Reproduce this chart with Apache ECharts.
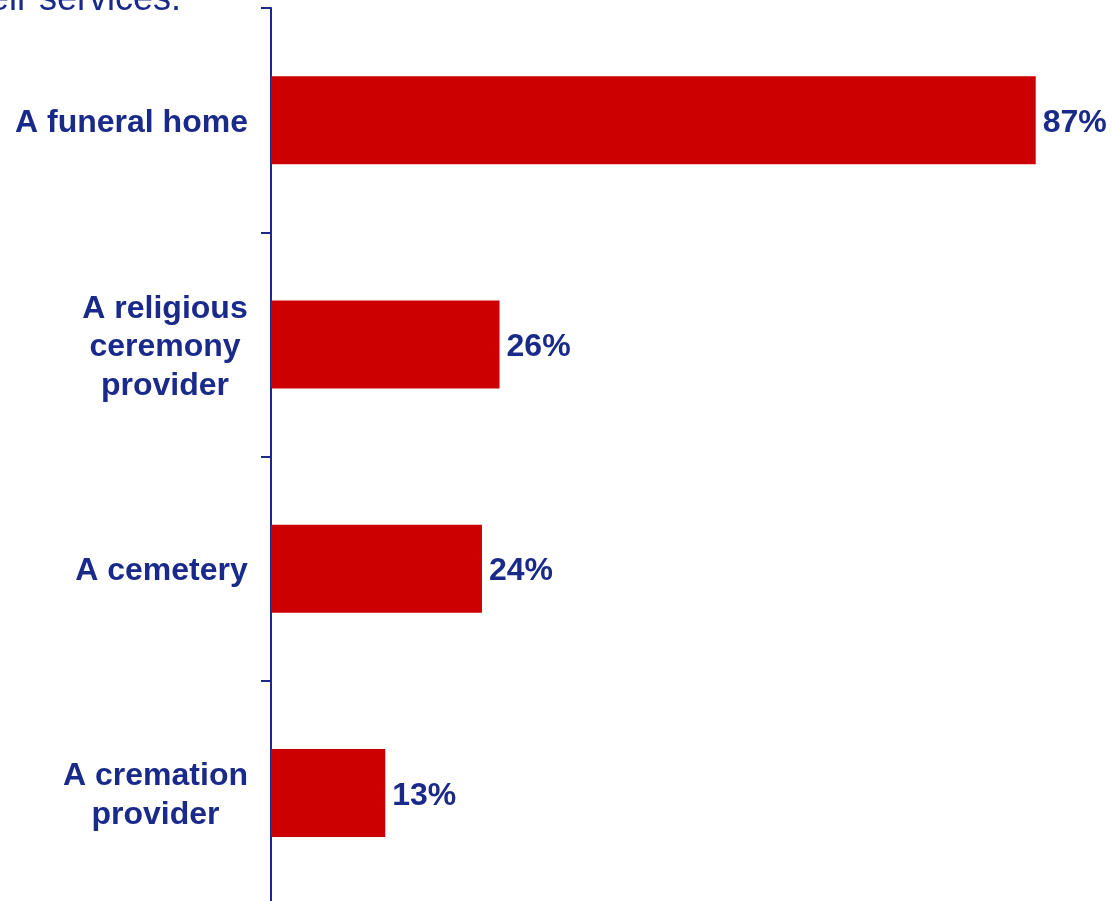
<!DOCTYPE html>
<html>
<head>
<meta charset="utf-8">
<style>
  html, body { margin: 0; padding: 0; background: #ffffff; }
  #chart { width: 1112px; height: 901px; }
</style>
<script src="https://cdn.jsdelivr.net/npm/echarts@6/dist/echarts.min.js"></script>
</head>
<body>
<div id="chart"></div>
<script>
// Providers and the share of respondents who used each one
const categories = [
  'A funeral home',
  'A religious\nceremony\nprovider',
  'A cemetery',
  'A cremation\nprovider'
];
const shares = [87, 26, 24, 13];
const titleTail = 'their services.';

const NAVY = '#1a2a8a';
const RED = '#cc0000';
const FONT = 'Arial, "Liberation Sans", sans-serif';
const LABEL_FONT = 'bold 32px ' + FONT;

// Each multi-line category label is right-aligned as a block, with its
// lines centred on one another: give every label its own rich style whose
// width is that of its widest line.
const measureCtx = document.createElement('canvas').getContext('2d');
measureCtx.font = LABEL_FONT;
const labelRich = {};
categories.forEach((c, i) => {
  const w = Math.max(...c.split('\n').map(s => measureCtx.measureText(s).width));
  labelRich['c' + i] = {
    width: Math.ceil(w),
    align: 'center',
    color: NAVY,
    fontFamily: FONT,
    fontSize: 32,
    fontWeight: 'bold',
    lineHeight: 38.5
  };
});

const chart = echarts.init(document.getElementById('chart'), null, { renderer: 'canvas' });

chart.setOption({
  backgroundColor: '#ffffff',
  animation: false,
  graphic: [{
    type: 'text',
    style: {
      x: 181,
      y: 0,
      text: titleTail,
      fill: NAVY,
      font: 'normal 36px ' + FONT,
      textAlign: 'right',
      textVerticalAlign: 'middle'
    }
  }],
  grid: {
    left: 271,
    top: 8,
    width: 879,
    height: 897,
    containLabel: false,
    outerBoundsMode: 'none'
  },
  xAxis: {
    type: 'value',
    min: 0,
    max: 100,
    show: false
  },
  yAxis: {
    type: 'category',
    data: categories,
    inverse: true,
    boundaryGap: true,
    axisLine: { show: true, lineStyle: { color: NAVY, width: 2 } },
    axisTick: { show: true, length: 10, lineStyle: { color: NAVY, width: 2 } },
    axisLabel: {
      margin: 23,
      color: NAVY,
      fontFamily: FONT,
      fontSize: 32,
      fontWeight: 'bold',
      lineHeight: 38.5,
      align: 'right',
      padding: [6, 0, 0, 0],
      formatter: (v, i) => v.split('\n').map(s => '{c' + i + '|' + s + '}').join('\n'),
      rich: labelRich
    },
    splitLine: { show: false }
  },
  series: [{
    type: 'bar',
    data: shares,
    barWidth: 88,
    itemStyle: { color: RED },
    label: {
      show: true,
      position: 'right',
      distance: 7,
      offset: [0, 3],
      formatter: p => p.value + '%',
      color: NAVY,
      fontFamily: FONT,
      fontSize: 32,
      fontWeight: 'bold'
    }
  }]
});
</script>
</body>
</html>
